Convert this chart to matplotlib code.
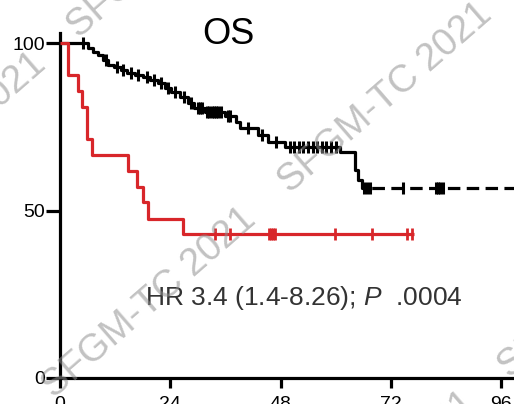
import numpy as np
import matplotlib.pyplot as plt

plt.rcParams['font.family'] = ['Liberation Sans', 'DejaVu Sans']
plt.rcParams['mathtext.fontset'] = 'custom'
plt.rcParams['mathtext.it'] = 'Liberation Sans:italic'
plt.rcParams['mathtext.rm'] = 'Liberation Sans'

# Kaplan-Meier, overall survival (months, %)
red_t = [0, 1.7, 3.9, 4.8, 5.9, 7.0, 14.8, 16.8, 18.1, 19.2, 26.8]
red_s = [100, 90.5, 85.7, 81.0, 71.4, 66.7, 61.9, 57.1, 52.4, 47.6, 42.9]
red_end = 77.0
red_cens = [33.8, 37.0, 45.6, 46.0, 46.4, 46.8, 59.9, 68.0, 75.6, 76.7]

black_t = [0, 6.1, 7.2, 8.3, 9.4, 10.4, 11.8, 13.3, 14.6, 16.3, 18.1, 19.6, 21.3,
           22.9, 24.2, 26.1, 27.9, 29.2, 31.6, 35.9, 38.3, 39.2, 43.1, 45.3, 49.0,
           60.9, 64.2, 64.9, 65.7]
black_s = [100, 98.5, 97.3, 96.4, 94.9, 93.4, 92.8, 91.9, 91.0, 90.4, 89.9, 89.0, 88.1,
           86.6, 85.4, 83.9, 82.1, 80.6, 79.4, 78.2, 76.4, 74.6, 72.5, 70.4, 69.0,
           67.5, 62.1, 59.1, 56.7]
black_solid_end = 68.0
black_end = 100.0
black_cens = [5.0, 10.0, 12.5, 13.8, 15.5, 17.0, 19.0, 20.5, 22.0, 23.5, 25.0, 27.0,
              28.5, 30.0, 30.5, 31.0, 32.0, 32.5, 33.0, 33.5, 34.0, 34.5, 35.0, 36.5,
              37.0, 41.0, 44.0, 47.0, 50.0, 51.0, 52.0, 53.0, 54.0, 55.0, 56.0, 57.0,
              58.0, 59.0, 60.0, 66.2, 66.8, 67.4, 74.7, 81.8, 82.3, 82.8, 83.3]

x_ticks = [0, 24, 48, 72, 96]
y_ticks = [0, 50, 100]
hr_text = 'HR 3.4 (1.4-8.26); $P$  .0004'
watermark = 'SFGM-TC 2021'

RED = '#d8262a'
LW = 2.3


def surv_at(t, times, surv):
    i = np.searchsorted(times, t, side='right') - 1
    return np.asarray(surv)[i]


fig = plt.figure(figsize=(5.14, 4.04), dpi=100)
ax = fig.add_axes([60 / 514, 26 / 404, 100 * 4.594 / 514, 103 * 3.35 / 404])
ax.set_xlim(0, 100)
ax.set_ylim(0, 103)

# black arm
bt = list(black_t) + [black_solid_end]
bs = list(black_s) + [black_s[-1]]
ax.step(bt, bs, where='post', color='black', lw=LW, solid_capstyle='butt', zorder=3)
ax.plot([black_solid_end, black_end], [black_s[-1]] * 2, color='black', lw=LW,
        linestyle=(0, (3.9, 2.0)), zorder=3)
ax.plot(black_cens, surv_at(black_cens, black_t, black_s), linestyle='none',
        marker='|', markersize=9, mew=2.2, color='black', zorder=3)

# red arm
rt = list(red_t) + [red_end]
rs = list(red_s) + [red_s[-1]]
ax.step(rt, rs, where='post', color=RED, lw=LW, solid_capstyle='butt', zorder=4)
ax.plot(red_cens, surv_at(red_cens, red_t, red_s), linestyle='none',
        marker='|', markersize=9, mew=2.0, color=RED, zorder=4)

for side in ['top', 'right']:
    ax.spines[side].set_visible(False)
for side in ['left', 'bottom']:
    ax.spines[side].set_linewidth(LW)
ax.set_xticks(x_ticks)
ax.set_yticks(y_ticks)
ax.tick_params(axis='x', length=7, width=LW, pad=6, labelsize=14)
ax.tick_params(axis='y', length=10, width=LW, pad=1, labelsize=14)

ax.text(18.5, 23.9, hr_text, fontsize=19, color='#333333', ha='left', va='center')
fig.text(228 / 514, 1 - 35 / 404, 'OS', fontsize=26, ha='center', va='center')

# diagonal watermark
for cx, cy in [(385, 98), (149, 303), (-61, 148), (174, -57), (605, 283), (369, 487)]:
    fig.text(cx / 514, 1 - cy / 404, watermark, fontsize=27.5, rotation=41,
             rotation_mode='anchor', ha='center', va='center', color='#909090',
             alpha=0.55, zorder=10)

fig.savefig('out.png', dpi=100)
